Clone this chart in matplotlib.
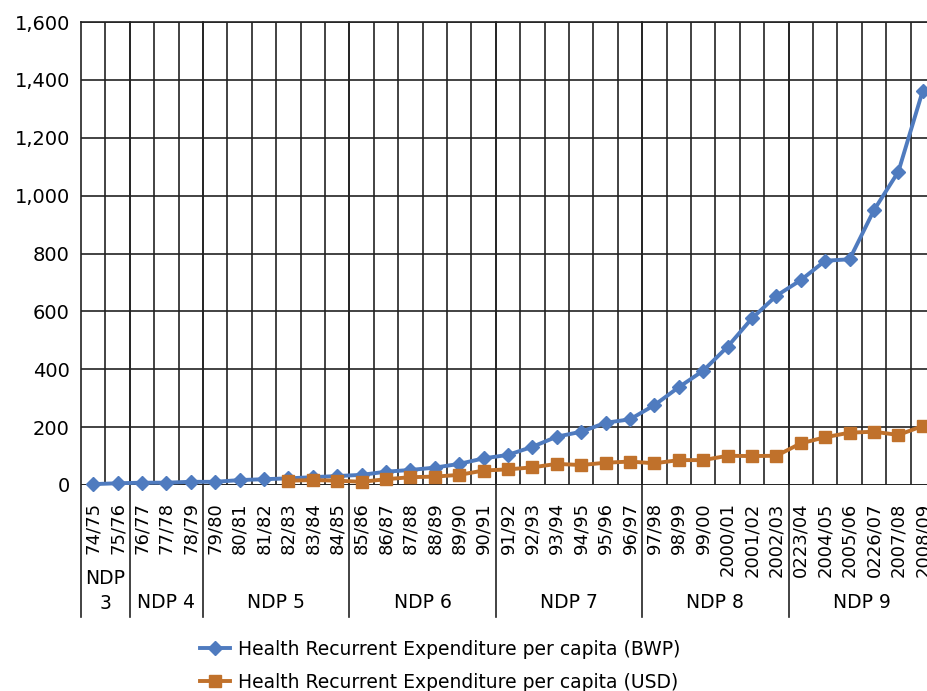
import matplotlib
matplotlib.use("Agg")
import matplotlib.pyplot as plt
import matplotlib.transforms as mtransforms
from matplotlib.ticker import FuncFormatter, MultipleLocator

plt.rcParams['font.family'] = ['DejaVu Sans']

# Fiscal years
years = ["74/75", "75/76", "76/77", "77/78", "78/79", "79/80", "80/81", "81/82",
         "82/83", "83/84", "84/85", "85/86", "86/87", "87/88", "88/89", "89/90",
         "90/91", "91/92", "92/93", "93/94", "94/95", "95/96", "96/97", "97/98",
         "98/99", "99/00", "2000/01", "2001/02", "2002/03", "0223/04", "2004/05",
         "2005/06", "0226/07", "2007/08", "2008/09"]

# Health recurrent expenditure per capita, in Pula
bwp = [3, 6, 8, 8, 11, 11, 17, 20, 23, 27, 31, 35, 46, 52, 60, 73, 92, 104,
       132, 167, 184, 215, 227, 276, 338, 395, 478, 576, 654, 708, 775, 780,
       950, 1083, 1363]

# Same expenditure in US dollars (series starts in 82/83)
usd = [None] * 8 + [15, 17, 15, 11, 20, 27, 29, 35, 50, 54, 61, 73, 69, 77,
                    81, 75, 86, 86, 101, 100, 101, 144, 165, 181, 184, 173, 204]

# National Development Plans and the number of years each covers
plans = ["NDP\n3", "NDP 4", "NDP 5", "NDP 6", "NDP 7", "NDP 8", "NDP 9"]
plan_years = [2, 3, 6, 6, 6, 6, 6]

series_labels = ["Health Recurrent Expenditure per capita (BWP)",
                 "Health Recurrent Expenditure per capita (USD)"]

W, H = 927, 691
fig = plt.figure(figsize=(W / 100, H / 100), dpi=100)
left, top, bottom = 81, 22, 485
ncat = len(years)
cat_w = 24.4
ax = fig.add_axes([left / W, (H - bottom) / H, ncat * cat_w / W, (bottom - top) / H])

x = list(range(ncat))
blue = "#4F7BBF"
orange = "#C0712B"
ax.plot(x, bwp, color=blue, lw=2.8, marker="D", ms=7, mec=blue, mfc=blue,
        label=series_labels[0], zorder=4, clip_on=False)
ux = [i for i, v in zip(x, usd) if v is not None]
uv = [v for v in usd if v is not None]
ax.plot(ux, uv, color=orange, lw=2.8, marker="s", ms=8, mec=orange, mfc=orange,
        label=series_labels[1], zorder=4, clip_on=False)

ax.set_xlim(-0.5, ncat - 0.5)
ax.set_ylim(0, 1600)
ax.yaxis.set_major_locator(MultipleLocator(200))
ax.yaxis.set_major_formatter(FuncFormatter(lambda v, p: f"{int(v):,}"))

ax.set_xticks(x)
ax.set_xticklabels(years, rotation=90, va="top", ha="center")
ax.set_xticks([i + 0.5 for i in range(ncat - 1)], minor=True)
ax.tick_params(axis="x", which="both", length=0, pad=12.5, labelsize=13)
ax.tick_params(axis="y", length=0, pad=8, labelsize=14)

ax.grid(axis="y", which="major", color="#222222", lw=1.2)
ax.grid(axis="x", which="minor", color="#222222", lw=1.2)
ax.set_axisbelow(True)
for s in ["right", "bottom"]:
    ax.spines[s].set_visible(False)
ax.spines["top"].set_color("#222222")
ax.spines["top"].set_linewidth(1.2)
ax.spines["left"].set_visible(False)
ax.axhline(0, color="#222222", lw=1.2, zorder=1)

# Plan separators and names below the axis
trans = mtransforms.blended_transform_factory(ax.transData, ax.transAxes)
ext = -(617 - bottom) / (bottom - top)
start = 0
bounds = [0]
for n in plan_years:
    start += n
    bounds.append(start)
for b in bounds[:-1]:
    ax.plot([b - 0.5, b - 0.5], [ext, 1], transform=trans, color="#222222",
            lw=1.2, clip_on=False, zorder=1)
row = -(602 - bottom) / (bottom - top)
row2 = -(591 - bottom) / (bottom - top)
for name, a, b in zip(plans, bounds[:-1], bounds[1:]):
    cx = (a + b - 1) / 2
    if "\n" in name:
        ax.text(cx, row2, name, transform=trans, ha="center", va="center",
                fontsize=13.5, linespacing=1.4)
    else:
        ax.text(cx, row, name, transform=trans, ha="center", va="center",
                fontsize=13.5)

fig.legend(loc="upper left", bbox_to_anchor=(200 / W, 1 - 640 / H), frameon=False,
           fontsize=13.5, handlelength=1.6, handletextpad=0.4, labelspacing=0.72,
           borderaxespad=0, borderpad=0)

fig.savefig("out.png", dpi=100)
